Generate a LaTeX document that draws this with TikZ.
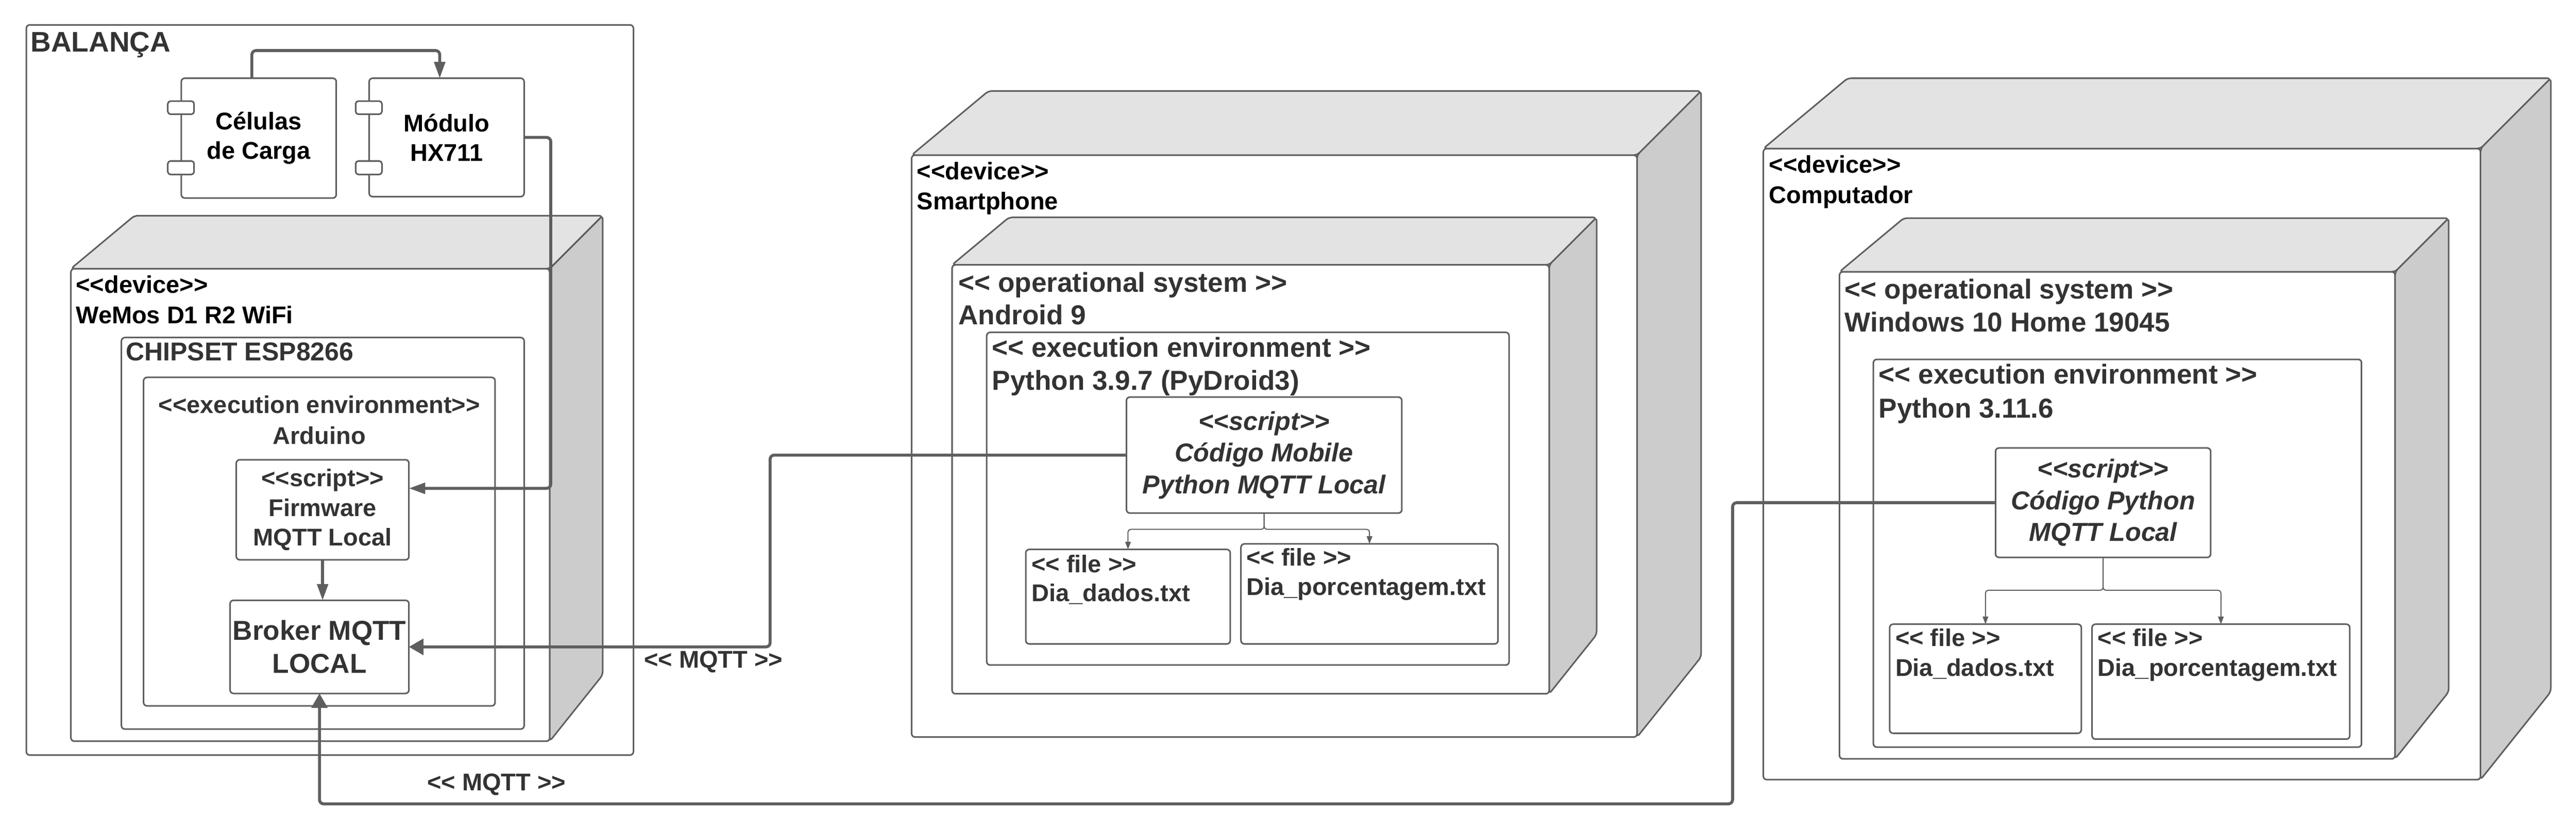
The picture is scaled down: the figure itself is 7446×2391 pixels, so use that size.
\documentclass[tikz,border=0pt]{standalone}
\usepackage{fontspec}
\setmainfont{Liberation Sans}
\usetikzlibrary{arrows.meta}
\usetikzlibrary{fit}
\usetikzlibrary{positioning}

\definecolor{linegray}{HTML}{5E5E5E}
\definecolor{textgray}{HTML}{333333}
\definecolor{topgray}{HTML}{E3E3E3}
\definecolor{sidegray}{HTML}{CCCCCC}

\newcommand{\stereo}[1]{<\kern0pt<#1>\kern0pt>}
\newcommand{\boxfaces}[2]{%
  \draw[face, fill=topgray] (#1.north west) -- ([shift={(1.2*#2,-#2)}]#1.north west)
    -- ([shift={(#2,-#2)}]#1.north east) -- (#1.north east) -- cycle;
  \draw[face, fill=sidegray] (#1.north east) -- ([shift={(#2,-#2)}]#1.north east)
    -- ([shift={(#2,-1.25*#2)}]#1.south east) -- (#1.south east) -- cycle;
}

\begin{document}
\begin{tikzpicture}[
    x=0.1mm, y=-0.1mm,
    outline/.style={draw=linegray, line width=0.45mm},
    box/.style={outline, rounded corners=1mm, fill=white, inner sep=0pt, outer sep=0pt},
    boxtext/.style={inner sep=0pt, align=center, text=textgray},
    face/.style={outline, rounded corners=1mm},
    arrow/.style={draw=linegray, line width=0.85mm, rounded corners=1.2mm, -{Triangle[length=4.7mm, width=3.1mm]}},
    wide arrow/.style={arrow, -{Triangle[length=4.2mm, width=4.6mm]}},
    branch/.style={draw=linegray, line width=0.3mm, rounded corners=0.8mm, -{Triangle[length=2.2mm, width=1.6mm]}},
    tag/.style={inner sep=0pt, anchor=base west, text=textgray},
    fbig/.style={font=\fontsize{22.5}{27.2}\selectfont\bfseries},
    fmid/.style={font=\fontsize{19.9}{24.4}\selectfont\bfseries},
    fscript/.style={font=\fontsize{21.3}{26}\selectfont\bfseries\itshape},
  ]
  \useasboundingbox (0,0) rectangle (7446,2391);

  % balanca
  \node[box, fill=none, fit={(76,72) (1831,2181)}] (scale) {};
  \node[tag, font=\fontsize{23.3}{28}\selectfont\bfseries] (scalename) at (88,150) {BALANÇA};

  \node[box, fit={(524,226) (972,572)}] (cells) {};
  \node[boxtext, fmid, text=black] (cellstext) at (cells) {Células\\de Carga};
  \node[box, fit={(1067,226) (1515,568)}] (hx711) {};
  \node[boxtext, fmid, text=black] (hx711text) at (hx711) {Módulo\\HX711};
  \foreach \comp in {cells, hx711} {
    \draw[box, rounded corners=0.8mm] ([shift={(-39,66)}]\comp.north west) rectangle ++(76,38);
    \draw[box, rounded corners=0.8mm] ([shift={(-39,239)}]\comp.north west) rectangle ++(76,39);
  }

  \node[box, fit={(205,776) (1589,2141)}] (wemos) {};
  \boxfaces{wemos}{153}
  \node[tag, fmid, text=black] (wemoskind) at (219,846) {\stereo{device}};
  \node[tag, fmid, text=black] (wemosname) at (219,934) {WeMos D1 R2 WiFi};
  \node[box, fit={(351,975) (1515,2106)}] (chipset) {};
  \node[tag, font=\fontsize{21.2}{25}\selectfont\bfseries] (chipsetname) at (363,1042) {CHIPSET ESP8266};
  \node[box, fit={(415,1090) (1431,2039)}] (arduino) {};
  \node[tag, fmid, anchor=base] (arduinokind) at (923,1194) {\stereo{execution environment}};
  \node[tag, fmid, anchor=base] (arduinoname) at (923,1283) {Arduino};
  \node[box, fit={(683,1328) (1182,1617)}] (firmware) {};
  \node[boxtext, fmid] (firmwaretext) at (firmware) {\stereo{script}\\Firmware\\MQTT Local};
  \node[box, fit={(665,1734) (1182,2003)}] (broker) {};
  \node[boxtext, fbig] (brokertext) at (broker) {Broker MQTT\\LOCAL};

  % smartphone
  \node[box, fit={(2635,448) (4732,2129)}] (phone) {};
  \boxfaces{phone}{185}
  \node[tag, fmid, text=black] (phonekind) at (2650,519) {\stereo{device}};
  \node[tag, fmid, text=black] (phonename) at (2650,606) {Smartphone};
  \node[box, fit={(2752,765) (4478,2004)}] (android) {};
  \boxfaces{android}{137}
  \node[tag, fbig] (androidkind) at (2770,844) {\stereo{ operational system }};
  \node[tag, fbig] (androidname) at (2770,937) {Android 9};
  \node[box, fit={(2852,960) (4362,1921)}] (pydroid) {};
  \node[tag, fbig] (pydroidkind) at (2867,1031) {\stereo{ execution environment }};
  \node[tag, fbig] (pydroidname) at (2867,1127) {Python 3.9.7 (PyDroid3)};
  \node[box, fit={(3256,1147) (4052,1482)}] (mobilescript) {};
  \node[boxtext, fscript] (mobilescripttext) at (mobilescript) {\stereo{script}\\Código Mobile\\Python MQTT Local};
  \node[box, fit={(2965,1587) (3556,1860)}] (phonedados) {};
  \node[tag, fmid] (phonedadoskind) at (2981,1654) {\stereo{ file }};
  \node[tag, fmid] (phonedadosname) at (2981,1737) {Dia\_dados.txt};
  \node[box, fit={(3587,1571) (4330,1860)}] (phoneperc) {};
  \node[tag, fmid] (phoneperckind) at (3602,1635) {\stereo{ file }};
  \node[tag, fmid] (phonepercname) at (3602,1719) {Dia\_porcentagem.txt};

  % computador
  \node[box, fit={(5097,429) (7170,2252)}] (pc) {};
  \boxfaces{pc}{203}
  \node[tag, fmid, text=black] (pckind) at (5113,500) {\stereo{device}};
  \node[tag, fmid, text=black] (pcname) at (5113,587) {Computador};
  \node[box, fit={(5317,785) (6923,2192)}] (windows) {};
  \boxfaces{windows}{155}
  \node[tag, fbig] (windowskind) at (5332,863) {\stereo{ operational system }};
  \node[tag, fbig] (windowsname) at (5332,958) {Windows 10 Home 19045};
  \node[box, fit={(5415,1038) (6826,2158)}] (python) {};
  \node[tag, fbig] (pythonkind) at (5430,1108) {\stereo{ execution environment }};
  \node[tag, fbig] (pythonname) at (5430,1207) {Python 3.11.6};
  \node[box, fit={(5768,1294) (6390,1610)}] (pcscript) {};
  \node[boxtext, fscript] (pcscripttext) at (pcscript) {\stereo{script}\\Código Python\\MQTT Local};
  \node[box, fit={(5462,1803) (6016,2118)}] (pcdados) {};
  \node[tag, fmid] (pcdadoskind) at (5478,1866) {\stereo{ file }};
  \node[tag, fmid] (pcdadosname) at (5478,1953) {Dia\_dados.txt};
  \node[box, fit={(6047,1803) (6792,2135)}] (pcperc) {};
  \node[tag, fmid] (pcperckind) at (6063,1866) {\stereo{ file }};
  \node[tag, fmid] (pcpercname) at (6063,1953) {Dia\_porcentagem.txt};

  \draw[branch] (mobilescript.south) -- ++(0,47) -| (phonedados.north);
  \draw[branch] (mobilescript.south) -- ++(0,47) -| (phoneperc.north);
  \draw[branch] (pcscript.south) -- ++(0,95) -| (pcdados.north);
  \draw[branch] (pcscript.south) -- ++(0,95) -| (pcperc.north);

  \draw[arrow] ([xshift=-2mm]cells.north) -- ++(0,-80) -| ([xshift=-2mm]hx711.north);
  \draw[arrow] (hx711.east) -- ++(77,0) |- ([yshift=6.2mm]firmware.east);
  \draw[arrow] (firmware.south) -- (firmware.south |- broker.north);
  \draw[wide arrow] (mobilescript.west) -- ++(-1030,0) |- (broker.east);
  \draw[wide arrow] (pcscript.west) -- ++(-760,0) -- ++(0,870) -| (broker.south);

  \node[tag, fmid, anchor=base] (mqttphone) at (2062,1929) {\stereo{ MQTT }};
  \node[tag, fmid, anchor=base] (mqttpc) at (1435,2284) {\stereo{ MQTT }};
\end{tikzpicture}
\end{document}
